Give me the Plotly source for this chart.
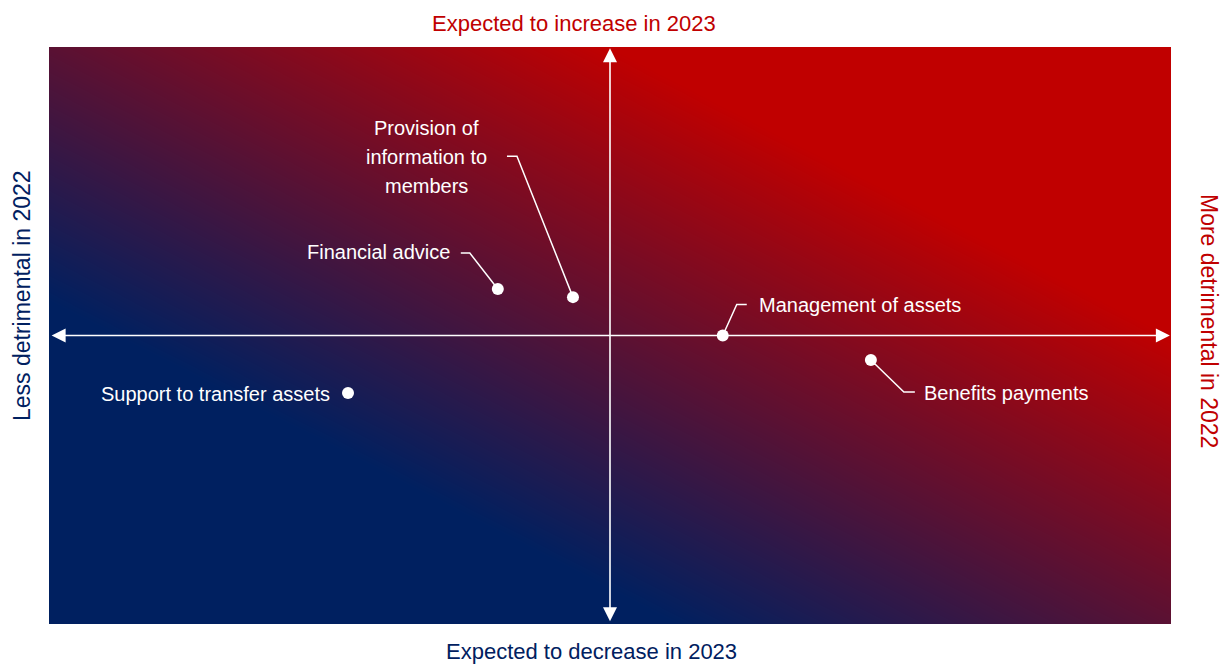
import numpy as np
import plotly.graph_objects as go

# ---- data ----
labels = ["Financial advice", "Provision of<br>information to<br>members", "Management of assets",
          "Benefits payments", "Support to transfer assets"]
x_vals = [-0.200, -0.066, 0.201, 0.465, -0.467]   # + = more detrimental in 2022
y_vals = [0.161, 0.133, 0.000, -0.085, -0.199]    # + = expected to increase in 2023

title_top = "Expected to increase in 2023"
title_bottom = "Expected to decrease in 2023"
title_left = "Less detrimental in 2022"
title_right = "More detrimental in 2022"

# ---- style / layout ----
W, H = 1221, 664
ML, MR, MT, MB = 49, 50, 47, 40
NAVY = "#002060"
RED = "#C00000"
FONT = "Liberation Sans, Arial, sans-serif"
LABEL_SIZE = 20
TITLE_SIZE = 22
LINE_GAP = 29  # px between lines of multi-line labels

pw, ph = W - ML - MR, H - MT - MB
sx, sy = pw / 2.0, ph / 2.0  # px per data unit


def off(x, y, dx, dy):
    """pixel offset (dx right, dy down) -> data coords"""
    return x + dx / sx, y - dy / sy


# label placement (pixel offsets from the dot): text anchor, leader path
label_style = [
    dict(tx=-46, ty=-37, xanchor="right", path=[(-28, -36), (-37, -36)]),
    dict(tx=-146, ty=-140, xanchor="center", path=[(-56, -141), (-66, -141)]),
    dict(tx=34, ty=-31, xanchor="left", path=[(14, -31), (24, -31)]),
    dict(tx=51, ty=33, xanchor="left", path=[(33, 32), (44, 32)]),
    dict(tx=-16, ty=1, xanchor="right", path=[]),
]

fig = go.Figure()

# gradient background
gx = np.linspace(-1, 1, 41)
gy = np.linspace(-1, 1, 41)
GX, GY = np.meshgrid(gx, gy)
Z = ((GX + 1) / 2 + (GY + 1) / 2) / 2
fig.add_trace(go.Heatmap(
    x=gx, y=gy, z=Z, zmin=0, zmax=1, zsmooth="best", showscale=False, hoverinfo="skip",
    colorscale=[[0, NAVY], [0.28, NAVY], [0.75, RED], [1, RED]],
))

# leader lines
for x, y, st in zip(x_vals, y_vals, label_style):
    if not st["path"]:
        continue
    pts = [(x, y)] + [off(x, y, dx, dy) for dx, dy in st["path"]]
    fig.add_trace(go.Scatter(
        x=[p[0] for p in pts], y=[p[1] for p in pts], mode="lines",
        line=dict(color="white", width=1.5), hoverinfo="skip", showlegend=False,
    ))

# dots
fig.add_trace(go.Scatter(
    x=x_vals, y=y_vals, mode="markers",
    marker=dict(color="white", size=12, line=dict(width=0)),
    hovertext=[l.replace("<br>", " ") for l in labels], hoverinfo="text", showlegend=False,
))

annotations = []
# cross axes with arrows
arrow_common = dict(xref="x", yref="y", axref="x", ayref="y", showarrow=True, arrowhead=2,
                    arrowside="end+start", arrowsize=1.75, arrowwidth=1.6,
                    arrowcolor="white", text="")
annotations.append(dict(x=0.998, y=0, ax=-0.998, ay=0, **arrow_common))
annotations.append(dict(x=0, y=0.996, ax=0, ay=-0.996, **arrow_common))

# point labels (multi-line labels placed line by line)
for x, y, lab, st in zip(x_vals, y_vals, labels, label_style):
    lines = lab.split("<br>")
    n = len(lines)
    for i, line in enumerate(lines):
        dy = st["ty"] + (i - (n - 1) / 2) * LINE_GAP
        annotations.append(dict(
            x=x, y=y, xref="x", yref="y", text=line, showarrow=False,
            xanchor=st["xanchor"], yanchor="middle", align="center",
            xshift=st["tx"], yshift=-dy,
            font=dict(family=FONT, size=LABEL_SIZE, color="white"),
        ))

# quadrant titles (pixel positions -> paper coords)
titles = [
    (title_top, 574, 24, 0, RED, TITLE_SIZE),
    (title_bottom, 591, 651, 0, NAVY, TITLE_SIZE),
    (title_left, 22, 296, -90, NAVY, 23),
    (title_right, 1209, 321, 90, RED, 23),
]
for text, px, py, ang, col, fs in titles:
    annotations.append(dict(
        x=(px - ML) / pw, y=(H - py - MB) / ph, xref="paper", yref="paper",
        text=text, showarrow=False, textangle=ang,
        font=dict(family=FONT, size=fs, color=col), xanchor="center", yanchor="middle",
    ))

fig.update_layout(
    width=W, height=H,
    margin=dict(l=ML, r=MR, t=MT, b=MB),
    paper_bgcolor="white", plot_bgcolor="white",
    xaxis=dict(range=[-1, 1], visible=False, showgrid=False, zeroline=False, fixedrange=True),
    yaxis=dict(range=[-1, 1], visible=False, showgrid=False, zeroline=False, fixedrange=True),
    annotations=annotations,
    showlegend=False,
)

fig.write_html("out.html",
               config={"displayModeBar": False},
               post_script="document.body.style.margin='0';document.body.style.padding='0';")
